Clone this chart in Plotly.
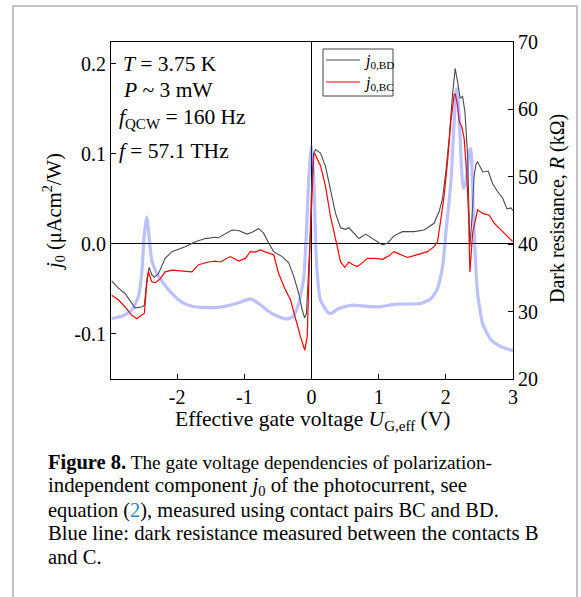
import plotly.graph_objects as go

# ---------------- data ----------------
bd_x = [-2.975,-2.876,-2.776,-2.676,-2.627,-2.527,-2.488,-2.452,-2.418,-2.378,-2.339,-2.279,-2.179,-2.079,
        -1.881,-1.731,-1.582,-1.433,-1.384,-1.184,-1.085,-0.960,-0.885,-0.787,-0.712,-0.637,-0.563,-0.437,-0.339,-0.264,-0.190,-0.139,-0.104,-0.075,-0.025,
        0.0,0.030,0.060,0.134,0.209,0.284,0.358,0.433,0.507,0.557,0.631,0.706,0.806,0.906,
        1.055,1.130,1.228,1.354,1.527,1.676,1.825,1.900,1.950,
        2.0,2.049,2.100,2.139,2.175,2.213,2.249,2.284,2.324,2.358,2.390,2.420,2.448,2.473,
        2.548,2.631,2.697,2.772,2.846,2.910,2.970,3.0]
bd_j = [-0.041,-0.049,-0.055,-0.066,-0.071,-0.070,-0.068,-0.040,-0.026,-0.034,-0.037,-0.033,-0.016,-0.0085,
        -0.003,0.0026,0.006,0.0074,0.007,0.0156,0.015,0.011,0.013,0.017,0.012,0.0007,-0.0085,-0.014,-0.021,-0.036,-0.055,-0.073,-0.082,-0.077,0.0,
        0.060,0.100,0.105,0.101,0.086,0.060,0.034,0.018,0.0163,0.018,0.012,0.006,0.011,0.006,
        -0.001,0.0007,0.009,0.0137,0.0137,0.0156,0.023,0.036,0.050,
        0.080,0.117,0.166,0.195,0.180,0.162,0.164,0.147,0.099,-0.003,0.030,0.075,0.088,0.0915,
        0.080,0.081,0.067,0.058,0.051,0.039,0.040,0.037]

bc_x = [-2.975,-2.876,-2.776,-2.676,-2.601,-2.527,-2.488,-2.452,-2.428,-2.378,
        -2.328,-2.254,-2.179,-2.079,-1.930,-1.781,-1.682,-1.533,-1.433,-1.358,
        -1.209,-1.085,-0.985,-0.910,-0.836,-0.761,-0.661,-0.563,-0.488,-0.388,
        -0.313,-0.239,-0.164,-0.100,-0.064,-0.022,0.034,0.049,0.134,0.209,
        0.284,0.330,0.380,0.433,0.497,0.557,0.616,0.682,0.757,0.831,
        0.955,1.055,1.154,1.228,1.303,1.428,1.527,1.627,1.727,1.825,
        1.876,1.925,1.975,2.025,2.075,2.124,2.139,2.175,2.199,2.239,
        2.273,2.309,2.339,2.358,2.399,2.473,2.548,2.646,2.721,2.821,
        2.921,2.996]
bc_j = [-0.057,-0.062,-0.070,-0.079,-0.083,-0.079,-0.077,-0.044,-0.031,-0.042,
        -0.043,-0.039,-0.031,-0.029,-0.030,-0.031,-0.023,-0.020,-0.019,-0.020,
        -0.014,-0.019,-0.016,-0.0085,-0.009,-0.0067,-0.0096,-0.012,-0.033,-0.051,
        -0.062,-0.084,-0.103,-0.118,-0.103,0.0,0.100,0.100,0.087,0.064,
        0.030,0.015,-0.002,-0.020,-0.026,-0.020,-0.023,-0.025,-0.021,-0.016,
        -0.016,-0.017,-0.013,-0.0085,-0.011,-0.015,-0.013,-0.0104,-0.0085,-0.003,
        0.0026,0.027,0.054,0.091,0.136,0.166,0.167,0.154,0.136,0.130,
        0.117,0.080,0.032,-0.031,0.012,0.038,0.034,0.032,0.023,0.0156,
        0.008,0.0026]

r_x = [-2.975,-2.825,-2.676,-2.578,-2.527,-2.488,-2.452,-2.418,-2.378,-2.303,
       -2.204,-2.079,-1.930,-1.781,-1.582,-1.433,-1.284,-1.085,-0.910,-0.787,
       -0.587,-0.388,-0.279,-0.190,-0.115,-0.070,-0.040,0.0,0.034,0.075,
       0.134,0.234,0.284,0.407,0.607,0.806,1.004,1.254,1.627,1.776,
       1.876,1.951,2.0,2.075,2.124,2.160,2.199,2.224,2.258,2.299,
       2.348,2.373,2.399,2.422,2.473,2.548,2.672,2.821,3.0]
r_kohm = [28.97,29.3,30.2,32.2,35.65,41.6,44.05,41.1,37.6,35.65,
          34.2,32.7,31.4,30.8,30.6,30.6,30.8,31.3,31.9,31.2,
          29.7,28.9,29.2,31.2,35.0,43.0,50.0,54.7,49.5,37.1,
          31.7,30.0,29.7,30.45,30.95,30.8,30.7,31.1,31.2,31.9,
          33.4,36.6,41.6,49.2,58.1,63.1,59.1,53.2,48.3,49.2,
          53.7,54.2,48.3,41.6,32.7,28.2,25.8,24.8,24.2]

x_ticks = [-2, -1, 0, 1, 2, 3]
x_ticktext = ["-2", "-1", "0", "1", "2", "3"]
j_ticks = [-0.1, 0.0, 0.1, 0.2]
j_ticktext = ["-0.1", "0.0", "0.1", "0.2"]
r_ticks = [20, 30, 40, 50, 60, 70]
r_ticktext = ["20", "30", "40", "50", "60", "70"]

legend_labels = ["<i>j</i><sub>0,BD</sub>", "<i>j</i><sub>0,BC</sub>"]
legend_colors = ["#4a4a4a", "#ff0000"]

info_lines = ["<i>T</i> = 3.75 K", "<i>P</i> ~ 3 mW",
              "<i>f</i><sub>QCW</sub> = 160 Hz", "<i>f</i> = 57.1 THz"]
caption_lines = [
    "<b><span style='font-size:20.5px'>Figure 8.</span></b> The gate voltage dependencies of polarization-",
    "independent component <i>j</i><sub>0</sub> of the photocurrent, see",
    "equation (<span style='color:#2a8ac4'>2</span>), measured using contact pairs BC and BD.",
    "Blue line: dark resistance measured between the contacts B",
    "and C.",
]
caption_sizes = [19.3, 20.8, 20.4, 20.7, 20.5]

# ---------------- layout constants ----------------
W, H = 581, 597
SERIF = "Liberation Serif, Times New Roman, serif"
L, R, T, B = 111, 513, 42, 379

def px(x):
    return x / W

def py(y):
    return 1 - y / H

fig = go.Figure()
fig.add_trace(go.Scatter(x=bd_x, y=bd_j, mode="lines", name=legend_labels[0], showlegend=False,
                         line=dict(color=legend_colors[0], width=1.1), yaxis="y"))
fig.add_trace(go.Scatter(x=bc_x, y=bc_j, mode="lines", name=legend_labels[1], showlegend=False,
                         line=dict(color=legend_colors[1], width=1.2), yaxis="y"))
fig.add_trace(go.Scatter(x=r_x, y=r_kohm, mode="lines", showlegend=False, name="R",
                         line=dict(color="rgba(70,80,245,0.36)", width=3.2, shape="spline", smoothing=0.5),
                         yaxis="y2"))

axis_common = dict(showline=True, linecolor="black", linewidth=1, ticks="inside", ticklen=5,
                   tickwidth=1, tickcolor="black", showgrid=False, automargin=False,
                   tickfont=dict(family=SERIF, size=20, color="black"))

fig.update_layout(
    width=W, height=H,
    margin=dict(l=0, r=0, t=0, b=0),
    paper_bgcolor="white", plot_bgcolor="white",
    xaxis=dict(domain=[px(L), px(R)], range=[-2.985, 3.0], tickvals=x_ticks, ticktext=x_ticktext,
               mirror=True, zeroline=True, zerolinecolor="black", zerolinewidth=1, **axis_common),
    yaxis=dict(domain=[py(B), py(T)], range=[-0.15, 0.2244], tickvals=j_ticks, ticktext=j_ticktext,
               mirror=True, zeroline=True, zerolinecolor="black", zerolinewidth=1, side="left",
               **axis_common),
    yaxis2=dict(overlaying="y", side="right", range=[20, 70], tickvals=r_ticks, ticktext=r_ticktext,
                zeroline=False, **axis_common),
    showlegend=False,
)

ann = []
# axis titles
ann.append(dict(text="Effective gate voltage <i>U</i><sub>G,eff</sub> (V)", x=px(312), y=py(420),
                xref="paper", yref="paper", showarrow=False, xanchor="center", yanchor="middle",
                font=dict(family=SERIF, size=21.5, color="black")))
ann.append(dict(text="<i>j</i><sub>0</sub> (μAcm<sup>2</sup>/W)", x=px(53), y=py(212),
                xref="paper", yref="paper", showarrow=False, textangle=-90,
                xanchor="center", yanchor="middle", font=dict(family=SERIF, size=20.5, color="black")))
ann.append(dict(text="Dark resistance, <i>R</i> (kΩ)", x=px(558), y=py(209),
                xref="paper", yref="paper", showarrow=False, textangle=-90,
                xanchor="center", yanchor="middle", font=dict(family=SERIF, size=20, color="black")))
# info text
info_y = [64, 90, 118, 151]
info_x = [121, 121, 117, 117]
for t, yy, xx in zip(info_lines, info_y, info_x):
    ann.append(dict(text=t, x=px(xx), y=py(yy), xref="paper", yref="paper", showarrow=False,
                    xanchor="left", yanchor="middle", font=dict(family=SERIF, size=21.5, color="black")))
# legend (drawn in paper space)
leg_y = [60, 82]
fig.add_shape(type="rect", xref="paper", yref="paper", x0=px(323), x1=px(393), y0=py(96), y1=py(49),
              line=dict(color="#444444", width=1), fillcolor="white", layer="above")
for lab, col, yy in zip(legend_labels, legend_colors, leg_y):
    fig.add_shape(type="line", xref="paper", yref="paper", x0=px(326), x1=px(360), y0=py(yy), y1=py(yy),
                  line=dict(color=col, width=1.2), layer="above")
    ann.append(dict(text=lab, x=px(362), y=py(yy + 2), xref="paper", yref="paper", showarrow=False,
                    xanchor="left", yanchor="middle", font=dict(family=SERIF, size=16, color="black")))
# caption
cap_y = [462, 486, 510, 533, 557]
for t, yy, sz in zip(caption_lines, cap_y, caption_sizes):
    ann.append(dict(text=t, x=px(46), y=py(yy), xref="paper", yref="paper", showarrow=False,
                    xanchor="left", yanchor="middle", align="left",
                    font=dict(family=SERIF, size=sz, color="black")))
fig.update_layout(annotations=ann)

# outer light-gray frame of the page
fig.add_shape(type="rect", xref="paper", yref="paper", x0=px(13), x1=px(577), y0=-0.05, y1=py(6),
              line=dict(color="#b0b0b0", width=1.5), fillcolor="rgba(0,0,0,0)", layer="below")

fig.write_html("out.html")
